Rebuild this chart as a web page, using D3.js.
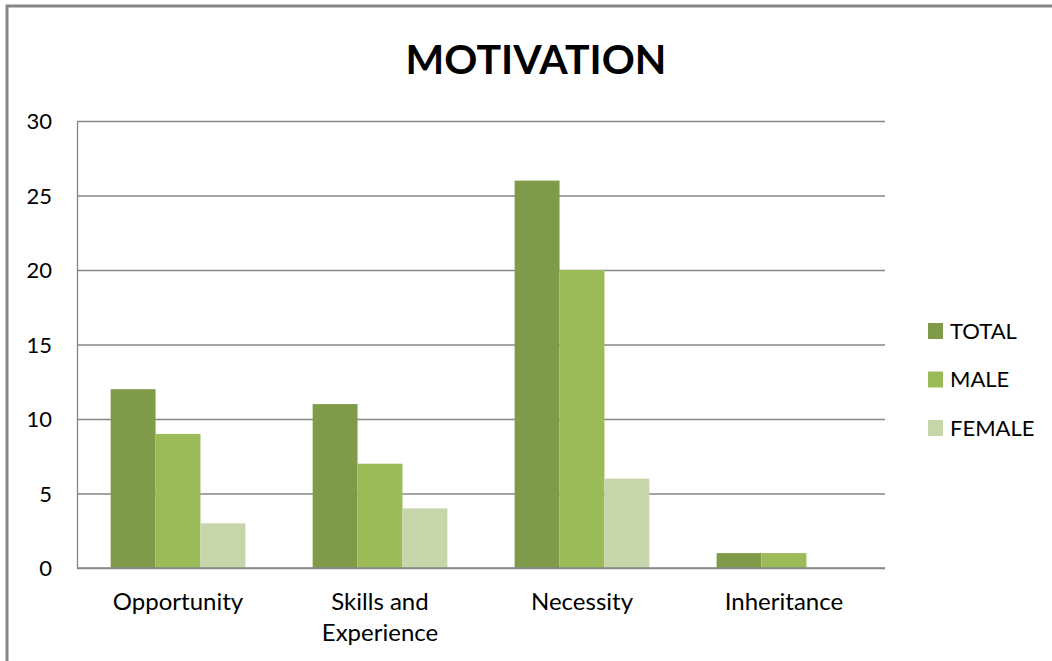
<!DOCTYPE html>
<html>
<head>
<meta charset="utf-8">
<script src="https://cdn.jsdelivr.net/npm/d3@7/dist/d3.min.js"></script>
<style>
  html, body { margin: 0; padding: 0; background: #fff; }
  svg { display: block; }
  text { font-family: Lato, "Open Sans", sans-serif; fill: #000; }
</style>
</head>
<body>
<svg id="chart" width="1052" height="661"></svg>
<script>
// Chart data
const categories = ["Opportunity", "Skills and Experience", "Necessity", "Inheritance"];
const seriesNames = ["TOTAL", "MALE", "FEMALE"];
const totalValues = [12, 11, 26, 1];
const maleValues = [9, 7, 20, 1];
const femaleValues = [3, 4, 6, 0];
const yTicks = [0, 5, 10, 15, 20, 25, 30];
const seriesColors = ["#7f9b4a", "#9bbb59", "#c6d6aa"];

const seriesValues = [totalValues, maleValues, femaleValues];
const rows = categories.map((c, i) => ({
  category: c,
  values: seriesNames.map((s, j) => ({ series: s, value: seriesValues[j][i] }))
}));

const svg = d3.select("#chart");

// outer chart frame
svg.append("rect")
  .attr("x", 7).attr("y", 6)
  .attr("width", 1100).attr("height", 700)
  .attr("fill", "none")
  .attr("stroke", "#868686")
  .attr("stroke-width", 3);

const plot = { left: 77, right: 885, top: 121, bottom: 568 };

const y = d3.scaleLinear().domain([0, 30]).range([plot.bottom, plot.top]);
const x0 = d3.scaleBand().domain(categories)
  .range([plot.left, plot.right])
  .paddingInner(0.333).paddingOuter(0.1667);
const x1 = d3.scaleBand().domain(seriesNames).range([0, x0.bandwidth()]);
const color = d3.scaleOrdinal().domain(seriesNames).range(seriesColors);

// gridlines
const grid = svg.append("g")
  .attr("transform", `translate(${plot.left},0)`)
  .call(d3.axisLeft(y).tickValues(yTicks).tickSize(-(plot.right - plot.left)).tickFormat(""));
grid.select(".domain").remove();
grid.selectAll("line").attr("stroke", "#868686").attr("stroke-width", 1.3);

// bars
svg.append("g").selectAll("g")
  .data(rows)
  .join("g")
  .attr("transform", d => `translate(${x0(d.category)},0)`)
  .selectAll("rect")
  .data(d => d.values)
  .join("rect")
  .attr("x", d => x1(d.series))
  .attr("width", x1.bandwidth())
  .attr("y", d => y(d.value))
  .attr("height", d => plot.bottom - y(d.value))
  .attr("fill", d => color(d.series));

// y axis
const yAxis = svg.append("g")
  .attr("transform", `translate(${plot.left},0)`)
  .call(d3.axisLeft(y).tickValues(yTicks).tickSize(0).tickPadding(25));
yAxis.select(".domain").attr("stroke", "#868686").attr("stroke-width", 1.3);
yAxis.selectAll("text").style("font-size", "22px").attr("dy", "0.36em");

// x axis baseline
svg.append("line")
  .attr("x1", plot.left).attr("x2", plot.right)
  .attr("y1", plot.bottom).attr("y2", plot.bottom)
  .attr("stroke", "#868686").attr("stroke-width", 1.5);

// category labels, wrapped onto two lines where needed
const labelLines = { "Skills and Experience": ["Skills and", "Experience"] };
svg.append("g").selectAll("text")
  .data(categories)
  .join("text")
  .attr("text-anchor", "middle")
  .style("font-size", "24px")
  .attr("transform", d => `translate(${x0(d) + x0.bandwidth() / 2},610)`)
  .each(function (d) {
    const lines = labelLines[d] || [d];
    d3.select(this).selectAll("tspan").data(lines).join("tspan")
      .attr("x", 0).attr("dy", (l, i) => i === 0 ? 0 : 31).text(l => l);
  });

// title
svg.append("text")
  .attr("x", 536).attr("y", 74)
  .attr("text-anchor", "middle")
  .style("font-size", "41px").style("font-weight", "bold")
  .text("MOTIVATION");

// legend
const legend = svg.append("g").selectAll("g")
  .data(seriesNames)
  .join("g")
  .attr("transform", (d, i) => `translate(928,${331 + i * 48.5})`);
legend.append("rect")
  .attr("x", 0).attr("y", -8).attr("width", 15).attr("height", 16)
  .attr("fill", d => color(d));
legend.append("text")
  .attr("x", 22).attr("y", 0).attr("dy", "0.36em")
  .style("font-size", "22px")
  .text(d => d);
</script>
</body>
</html>
